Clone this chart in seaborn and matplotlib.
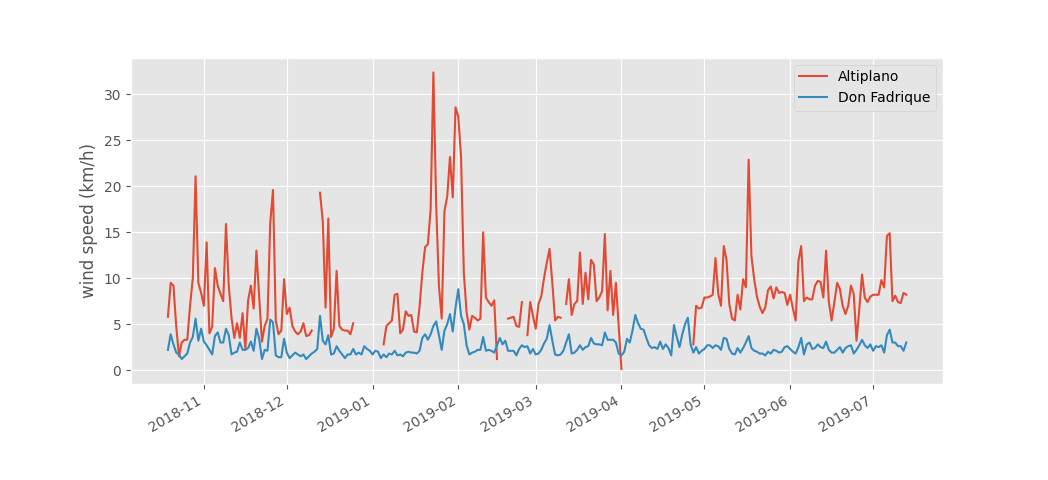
import numpy as np
import pandas as pd
import matplotlib
matplotlib.use("Agg")
import matplotlib.pyplot as plt
import seaborn as sns

nan = np.nan
start_date = "2018-10-19"
stations = ["Altiplano", "Don Fadrique"]
colors = ["#E24A33", "#348ABD"]

altiplano = [
    5.8, 9.5, 9.2, 4.8, 1.5, 3.0, 3.3, 3.3, 7.0, 10.0,
    21.1, 9.5, 8.4, 7.0, 13.9, 4.0, 4.7, 11.1, 9.2, 8.3,
    7.5, 15.9, 9.2, 5.7, 3.5, 5.1, 3.5, 6.2, 2.3, 7.6,
    9.2, 6.7, 13.0, 8.0, 3.1, 4.8, 5.6, 16.0, 19.6, 5.4,
    3.9, 4.3, 9.9, 6.1, 6.8, 4.8, 4.2, 3.9, 4.2, 5.1,
    3.7, 3.8, 4.3, nan, nan, 19.3, 16.2, 6.8, 16.5, 3.6,
    4.5, 10.8, 4.8, 4.4, 4.3, 4.3, 3.9, 5.1, nan, nan,
    nan, nan, nan, nan, nan, nan, nan, nan, 2.8, 4.8,
    5.1, 5.4, 8.2, 8.3, 4.0, 4.4, 6.4, 5.9, 6.0, 4.2,
    4.1, 6.9, 10.6, 13.4, 13.7, 17.5, 32.4, 18.0, 9.2, 5.6,
    17.3, 18.9, 23.2, 18.8, 28.6, 27.6, 23.2, 10.6, 6.3, 4.4,
    5.9, 5.7, 5.4, 5.6, 15.0, 7.9, 7.4, 7.0, 7.6, 1.2,
    nan, nan, nan, 5.6, 5.7, 5.8, 4.8, 4.7, 7.4, nan,
    3.8, 7.4, 5.9, 4.5, 7.2, 8.0, 10.0, 11.7, 13.2, 9.5,
    5.4, 5.8, 5.7, nan, 7.2, 9.9, 6.0, 7.2, 7.5, 12.8,
    7.2, 10.6, 7.7, 12.0, 11.5, 7.5, 7.9, 8.6, 14.8, 6.5,
    10.8, 6.0, 9.5, 4.8, 0.1, nan, nan, nan, nan, nan,
    nan, nan, nan, nan, nan, nan, nan, nan, nan, nan,
    nan, nan, nan, nan, nan, nan, nan, nan, nan, nan,
    2.8, 7.0, 6.7, 6.8, 7.9, 7.9, 8.0, 8.2, 12.2, 8.3,
    7.0, 13.5, 12.0, 7.2, 5.6, 5.4, 8.2, 6.6, 9.9, 9.0,
    22.9, 12.4, 9.9, 8.0, 6.9, 6.2, 6.8, 8.7, 9.1, 7.8,
    9.0, 8.4, 8.5, 8.4, 7.1, 8.2, 6.7, 5.4, 11.9, 13.5,
    7.5, 7.9, 7.7, 7.7, 9.2, 9.7, 9.6, 7.9, 13.0, 7.4,
    5.4, 7.4, 9.5, 8.8, 7.0, 6.1, 7.0, 9.2, 8.3, 3.2,
    6.6, 10.4, 7.9, 7.4, 8.0, 8.2, 8.2, 8.2, 9.8, 9.0,
    14.6, 14.9, 7.5, 8.1, 7.4, 7.3, 8.4, 8.2,
]

don_fadrique = [
    2.2, 3.9, 2.8, 1.9, 1.7, 1.2, 1.5, 1.8, 3.0, 3.6,
    5.6, 3.2, 4.5, 3.1, 2.7, 2.2, 1.7, 3.7, 4.1, 3.0,
    3.0, 4.5, 3.8, 1.7, 1.9, 2.0, 3.0, 2.2, 2.2, 2.4,
    3.1, 2.1, 4.5, 3.4, 1.2, 2.2, 2.1, 5.5, 5.2, 1.6,
    1.4, 1.4, 3.4, 1.9, 1.3, 1.6, 1.9, 1.7, 1.5, 1.7,
    1.2, 1.5, 1.8, 2.0, 2.3, 5.9, 3.2, 2.8, 3.8, 1.7,
    1.8, 2.6, 2.1, 1.7, 1.3, 1.7, 1.7, 2.3, 1.7, 1.9,
    1.7, 2.6, 2.3, 2.1, 1.7, 2.1, 2.0, 1.3, 1.7, 1.4,
    1.8, 1.7, 2.1, 1.6, 1.7, 1.5, 1.9, 2.0, 1.9, 1.9,
    1.8, 2.1, 3.5, 3.9, 3.3, 3.9, 4.8, 5.3, 3.8, 2.2,
    4.3, 5.0, 6.1, 4.2, 6.8, 8.8, 5.9, 5.0, 2.7, 1.7,
    1.9, 2.0, 2.2, 2.2, 3.6, 2.1, 2.2, 2.1, 1.9, 2.7,
    3.5, 2.8, 3.2, 2.1, 2.1, 2.1, 1.6, 2.3, 2.7, 2.5,
    2.6, 1.8, 2.3, 1.7, 1.8, 2.2, 2.9, 3.4, 4.9, 3.2,
    1.7, 1.6, 1.7, 2.1, 3.0, 3.9, 1.8, 1.9, 2.2, 2.7,
    2.2, 2.5, 2.6, 3.5, 2.9, 2.8, 2.8, 2.7, 4.1, 3.3,
    3.3, 3.3, 3.0, 1.8, 1.6, 2.0, 3.4, 3.0, 4.3, 6.0,
    5.1, 4.5, 4.4, 3.5, 2.7, 2.4, 2.5, 2.3, 3.1, 2.3,
    2.8, 2.4, 1.6, 4.9, 3.6, 2.5, 3.9, 5.0, 5.7, 2.8,
    1.9, 2.5, 1.8, 2.1, 2.3, 2.7, 2.7, 2.4, 2.7, 2.6,
    2.2, 3.5, 3.4, 2.3, 1.8, 1.7, 2.4, 1.9, 2.4, 3.0,
    3.7, 2.4, 2.1, 2.0, 1.8, 1.8, 1.6, 2.0, 1.8, 2.2,
    2.1, 1.9, 2.0, 2.5, 2.6, 2.3, 2.0, 1.8, 2.5, 3.5,
    1.7, 2.8, 3.0, 2.3, 2.4, 2.8, 2.5, 2.4, 3.1, 2.2,
    1.9, 1.9, 2.2, 2.5, 1.9, 2.4, 2.6, 2.7, 1.8, 2.2,
    2.7, 3.3, 2.7, 2.4, 2.8, 2.1, 2.6, 2.5, 2.7, 1.9,
    3.8, 4.4, 3.0, 3.0, 2.6, 2.6, 2.1, 3.0,
]

plt.style.use("ggplot")

dates = pd.date_range(start_date, periods=len(altiplano), freq="D")
frames = []
for name, vals in zip(stations, [altiplano, don_fadrique]):
    s = pd.Series(vals, dtype=float)
    seg = s.isna().cumsum()
    df = pd.DataFrame({"date": dates, "speed": s.values,
                       "station": name, "segment": seg.values})
    frames.append(df.dropna(subset=["speed"]))
data = pd.concat(frames, ignore_index=True)
data["unit"] = data["station"] + "_" + data["segment"].astype(str)

fig, ax = plt.subplots(figsize=(10.48, 4.8), dpi=100)
sns.lineplot(data=data, x="date", y="speed", hue="station",
             hue_order=stations, units="unit", estimator=None,
             palette=colors, linewidth=1.5, ax=ax)

handles, labels = ax.get_legend_handles_labels()
ax.legend(handles, labels, loc="upper right")
ax.set_xlabel("")
ax.set_ylabel("wind speed (km/h)")
ax.set_yticks([0, 5, 10, 15, 20, 25, 30])
fig.autofmt_xdate()
fig.savefig("out.png", dpi=100)
